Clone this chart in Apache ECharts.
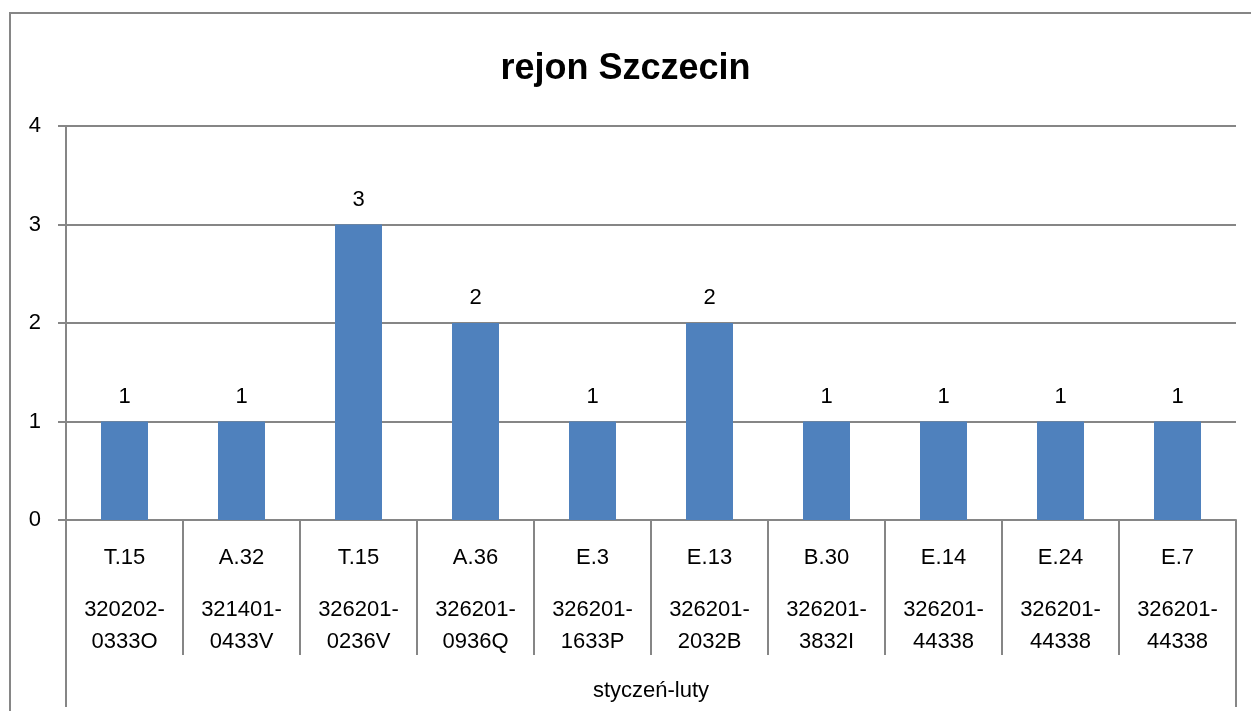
<!DOCTYPE html>
<html lang="pl">

<head>
    <meta charset="UTF-8" />
    <title>rejon Szczecin</title>
    <script src="https://cdn.jsdelivr.net/npm/echarts@6.0.0/dist/echarts.min.js"></script>
    <style>
        body { margin: 0; background: #fff; }
    </style>
</head>

<body>
    <div id="main" style="width: 1251px; height: 711px;"></div>

    <script>
        // kody przepisów i numery dróg
        const codes = ['T.15', 'A.32', 'T.15', 'A.36', 'E.3', 'E.13', 'B.30', 'E.14', 'E.24', 'E.7'];
        const roads = ['320202-\n0333O', '321401-\n0433V', '326201-\n0236V', '326201-\n0936Q', '326201-\n1633P',
            '326201-\n2032B', '326201-\n3832I', '326201-\n44338', '326201-\n44338', '326201-\n44338'];
        const counts = [1, 1, 3, 2, 1, 2, 1, 1, 1, 1];
        const period = ['styczeń-luty'];
        const yTicks = [0, 1, 2, 3, 4];

        const font = 'Liberation Sans, Arial, sans-serif';
        const grey = '#868686';
        const myChart = echarts.init(document.getElementById('main'));

        const categories = codes.map((c, i) => c + '|' + roads[i]);

        const options = {
            animation: false,
            title: {
                text: 'rejon Szczecin',
                left: 'center',
                top: 46,
                textStyle: { fontFamily: font, fontSize: 36, fontWeight: 'bold', color: '#000' }
            },
            graphic: [{
                type: 'rect',
                shape: { x: 10, y: 13, width: 1400, height: 900 },
                style: { fill: 'none', stroke: grey, lineWidth: 2 },
                silent: true
            }],
            grid: { left: 66, right: 15, top: 126, bottom: 191 },
            xAxis: [{
                type: 'category',
                data: categories,
                axisLine: { show: true, lineStyle: { color: grey, width: 2 } },
                axisTick: { show: true, alignWithLabel: false, interval: 0, length: 135, lineStyle: { color: grey, width: 2 } },
                axisLabel: {
                    interval: 0,
                    margin: 1,
                    formatter: v => {
                        const [c, r] = v.split('|');
                        return '{t|' + c + '}\n' + r.split('\n').map(s => '{c|' + s + '}').join('\n');
                    },
                    rich: {
                        t: { fontFamily: font, fontSize: 22, lineHeight: 73, color: '#000' },
                        c: { fontFamily: font, fontSize: 22, lineHeight: 32, color: '#000' }
                    }
                }
            }, {
                type: 'category',
                data: period,
                position: 'bottom',
                axisLine: { show: false },
                axisTick: { show: true, interval: 0, length: 187, lineStyle: { color: grey, width: 2 } },
                axisLabel: { margin: 160, fontFamily: font, fontSize: 22, color: '#000' }
            }],
            yAxis: {
                type: 'value',
                min: yTicks[0],
                max: yTicks[yTicks.length - 1],
                interval: 1,
                axisLine: { show: true, lineStyle: { color: grey, width: 2 } },
                axisTick: { show: true, length: 8, lineStyle: { color: grey, width: 2 } },
                splitLine: { lineStyle: { color: grey, width: 2 } },
                axisLabel: { margin: 25, fontFamily: font, fontSize: 22, color: '#000' }
            },
            series: [{
                type: 'bar',
                data: counts,
                barWidth: 47,
                itemStyle: { color: '#4F81BD' },
                label: {
                    show: true,
                    position: 'top',
                    distance: 14,
                    fontFamily: font,
                    fontSize: 22,
                    color: '#000'
                }
            }]
        };

        myChart.setOption(options);
    </script>
</body>

</html>
